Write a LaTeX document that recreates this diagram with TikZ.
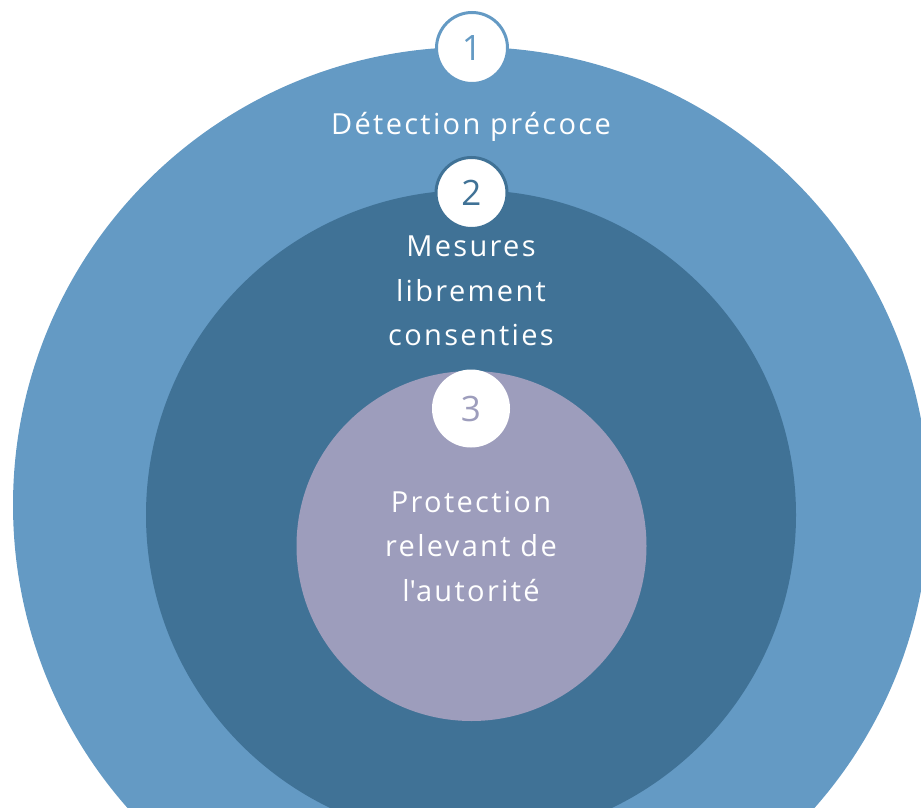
\documentclass[tikz,border=0pt]{standalone}
\usepackage{fontspec}
\setmainfont{Open Sans}
\definecolor{outerc}{RGB}{100,154,196}
\definecolor{midc}{RGB}{64,114,150}
\definecolor{innerc}{RGB}{157,157,188}
\tikzset{
  ring/.style={circle, inner sep=0pt, minimum size=#1},
  badge/.style={circle, fill=white, inner sep=0pt, minimum size=71pt, line width=3pt, font=\fontsize{35}{40}\selectfont},
  label/.style={text=white, align=center, font=\fontsize{29}{44.5}\selectfont\addfontfeature{LetterSpace=8}}
}
\begin{document}
\begin{tikzpicture}[x=1pt,y=-1pt]
\useasboundingbox (0,0) rectangle (921,808);
\begin{scope}
\clip (0,0) rectangle (921,808);
\node[ring=916pt, fill=outerc] (outer) at (471,505) {};
\node[badge, draw=outerc, text=outerc] (b1) at (472,48) {1};
\node[ring=650pt, fill=midc] (mid) at (471,515) {};
\node[badge, draw=midc, text=midc] (b2) at (471.5,193) {2};
\node[ring=350pt, fill=innerc] (inner) at (471.5,546) {};
\node[badge, minimum size=78pt, text=innerc] (b3) at (471,408.5) {3};
\node[label] (t1) at (471,127) {Détection précoce};
\node[label] (t2) at (471,291) {Mesures\\librement\\consenties};
\node[label] (t3) at (471,546) {Protection\\relevant de\\l\textquotesingle autorité};
\end{scope}
\end{tikzpicture}
\end{document}
